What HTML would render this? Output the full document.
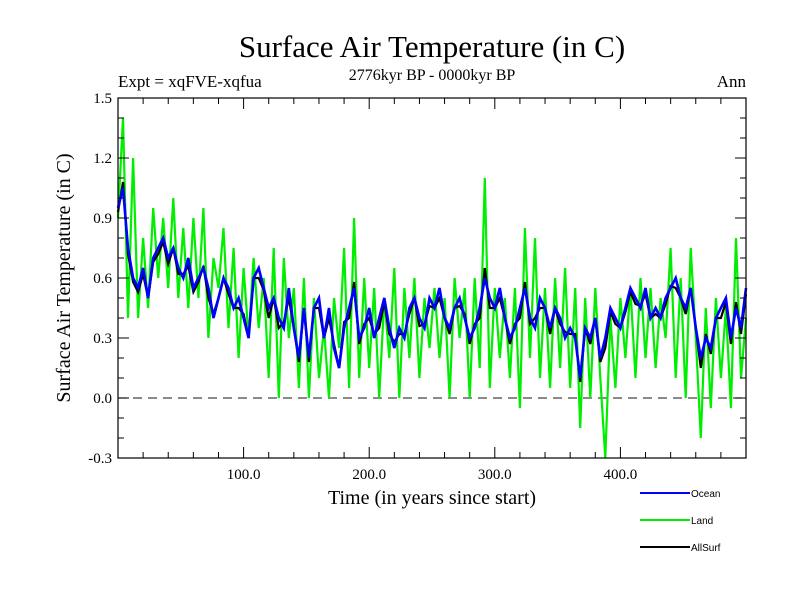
<!DOCTYPE html>
<html><head><meta charset="utf-8"><style>
body{margin:0;background:#fff;}
svg text{font-family:"Liberation Serif",serif;fill:#000;}
</style></head><body>
<svg id="chart" width="800" height="600" viewBox="0 0 800 600" xmlns="http://www.w3.org/2000/svg">
<rect width="800" height="600" fill="#fff"/>
<text x="432" y="57" font-size="31" text-anchor="middle">Surface Air Temperature (in C)</text>
<text x="432" y="80" font-size="16" text-anchor="middle">2776kyr BP - 0000kyr BP</text>
<text x="118" y="87" font-size="17">Expt = xqFVE-xqfua</text>
<text x="746" y="87" font-size="17" text-anchor="end">Ann</text>
<g id="grid"></g>
<g id="series"></g>
<rect x="118" y="98" width="628" height="360" fill="none" stroke="#000" stroke-width="1.2"/>
<g id="axes"></g>
<text x="432" y="504" font-size="20" text-anchor="middle">Time (in years since start)</text>
<text transform="translate(70,278) rotate(-90)" font-size="20" text-anchor="middle">Surface Air Temperature (in C)</text>
<g id="legend"></g>
</svg>
<script>
const yTicks=[-0.3,0.0,0.3,0.6,0.9,1.2,1.5];
const yTickLabels=["-0.3","0.0","0.3","0.6","0.9","1.2","1.5"];
const xTicks=[100,200,300,400];
const xTickLabels=["100.0","200.0","300.0","400.0"];
const seriesNames=["Ocean","Land","AllSurf"];
const oceanYears=[0,4,8,12,16,20,24,28,32,36,40,44,48,52,56,60,64,68,72,76,80,84,88,92,96,100,104,108,112,116,120,124,128,132,136,140,144,148,152,156,160,164,168,172,176,180,184,188,192,196,200,204,208,212,216,220,224,228,232,236,240,244,248,252,256,260,264,268,272,276,280,284,288,292,296,300,304,308,312,316,320,324,328,332,336,340,344,348,352,356,360,364,368,372,376,380,384,388,392,396,400,404,408,412,416,420,424,428,432,436,440,444,448,452,456,460,464,468,472,476,480,484,488,492,496,500];
const oceanValues=[0.95,1.05,0.75,0.6,0.55,0.65,0.5,0.7,0.75,0.8,0.7,0.75,0.65,0.6,0.7,0.55,0.6,0.65,0.55,0.4,0.5,0.6,0.55,0.45,0.5,0.4,0.3,0.6,0.65,0.55,0.45,0.5,0.4,0.35,0.55,0.35,0.2,0.45,0.2,0.45,0.5,0.3,0.45,0.25,0.15,0.35,0.45,0.55,0.3,0.35,0.45,0.3,0.4,0.5,0.35,0.25,0.35,0.3,0.45,0.5,0.4,0.35,0.5,0.45,0.55,0.4,0.35,0.45,0.5,0.4,0.3,0.35,0.45,0.6,0.5,0.45,0.55,0.4,0.3,0.35,0.45,0.55,0.4,0.35,0.5,0.45,0.35,0.45,0.4,0.3,0.35,0.3,0.1,0.35,0.3,0.4,0.2,0.3,0.45,0.4,0.35,0.45,0.55,0.5,0.45,0.55,0.4,0.45,0.4,0.5,0.55,0.6,0.5,0.45,0.55,0.35,0.2,0.3,0.25,0.4,0.45,0.5,0.3,0.45,0.35,0.55];
const landValues=[0.9,1.4,0.4,1.2,0.4,0.8,0.45,0.95,0.6,0.9,0.55,1.0,0.5,0.85,0.45,0.9,0.5,0.95,0.3,0.7,0.55,0.85,0.35,0.75,0.2,0.65,0.3,0.7,0.35,0.6,0.1,0.75,0.0,0.7,0.3,0.55,0.05,0.6,0.0,0.5,0.1,0.35,0.0,0.5,0.25,0.75,0.05,0.9,0.1,0.6,0.15,0.55,0.0,0.5,0.2,0.65,0.0,0.55,0.2,0.6,0.1,0.5,0.25,0.55,0.2,0.5,0.0,0.6,0.3,0.55,0.0,0.6,0.15,1.1,0.05,0.55,0.2,0.5,0.1,0.55,-0.05,0.85,0.2,0.8,0.1,0.55,0.05,0.6,0.15,0.65,0.05,0.55,-0.15,0.5,0.0,0.55,0.1,-0.3,0.4,0.05,0.5,0.2,0.55,0.1,0.6,0.2,0.55,0.15,0.5,0.3,0.75,0.1,0.6,0.0,0.75,0.3,-0.2,0.45,-0.05,0.5,0.1,0.45,-0.05,0.8,0.1,0.4];
const allSurfValues=[0.93,1.08,0.72,0.58,0.53,0.62,0.5,0.68,0.72,0.78,0.67,0.75,0.62,0.62,0.66,0.53,0.58,0.66,0.5,0.42,0.5,0.6,0.52,0.45,0.45,0.42,0.3,0.6,0.6,0.54,0.4,0.5,0.35,0.38,0.5,0.35,0.18,0.45,0.18,0.45,0.45,0.3,0.4,0.27,0.15,0.38,0.4,0.58,0.27,0.37,0.4,0.32,0.35,0.48,0.32,0.28,0.32,0.32,0.42,0.5,0.36,0.37,0.46,0.45,0.5,0.4,0.32,0.45,0.46,0.42,0.27,0.37,0.4,0.65,0.45,0.45,0.5,0.4,0.27,0.37,0.4,0.58,0.37,0.4,0.45,0.45,0.32,0.45,0.37,0.33,0.32,0.32,0.08,0.35,0.27,0.4,0.18,0.25,0.43,0.37,0.35,0.43,0.53,0.47,0.46,0.52,0.4,0.42,0.4,0.47,0.56,0.55,0.5,0.42,0.55,0.35,0.15,0.32,0.22,0.4,0.4,0.48,0.27,0.48,0.32,0.52];

const NS="http://www.w3.org/2000/svg";
const X0=118,X1=746,Y0=458,Y1=98;
function xs(v){return X0+(v-0)/(500-0)*(X1-X0);}
function ys(v){return Y0-(v-(-0.3))/(1.5-(-0.3))*(Y0-Y1);}
function mk(tag,attrs,parent){const e=document.createElementNS(NS,tag);for(const k in attrs)e.setAttribute(k,attrs[k]);parent.appendChild(e);return e;}
const grid=document.getElementById('grid'),axes=document.getElementById('axes'),ser=document.getElementById('series'),leg=document.getElementById('legend');

const zl=mk('line',{x1:X0,x2:X1,y1:ys(0),y2:ys(0),stroke:'#444','stroke-width':1.2,'stroke-dasharray':'9,6'},grid);



for(let t=20;t<500;t+=20){const major=t%100===0;const L=major?11:6;
 mk('line',{x1:xs(t),x2:xs(t),y1:Y0,y2:Y0-L,stroke:'#000'},axes);
 mk('line',{x1:xs(t),x2:xs(t),y1:Y1,y2:Y1+L,stroke:'#000'},axes);}
for(let i=-3;i<=15;i++){const v=i/10;const major=i%3===0;const L=major?11:6;
 mk('line',{x1:X0,x2:X0+L,y1:ys(v),y2:ys(v),stroke:'#000'},axes);
 mk('line',{x1:X1,x2:X1-L,y1:ys(v),y2:ys(v),stroke:'#000'},axes);}
yTicks.forEach((v,i)=>{const t=mk('text',{x:112,y:ys(v)+5,'font-size':15,'text-anchor':'end'},axes);t.textContent=yTickLabels[i];
 
 });
xTicks.forEach((v,i)=>{const t=mk('text',{x:xs(v),y:479,'font-size':15,'text-anchor':'middle'},axes);t.textContent=xTickLabels[i];
 
 });

function pts(vals){return vals.map((v,i)=>xs(oceanYears[i]).toFixed(1)+','+ys(v).toFixed(1)).join(' ');}
const land=mk('polyline',{points:pts(landValues),fill:'none',stroke:'#00ee00','stroke-width':2.2},ser);


const all=mk('polyline',{points:pts(allSurfValues),fill:'none',stroke:'#000','stroke-width':2.2},ser);


const oc=mk('polyline',{points:pts(oceanValues),fill:'none',stroke:'#0000ff','stroke-width':2.6},ser);



const colors=['#0000ff','#00ee00','#000'];
seriesNames.forEach((n,i)=>{const y=493+i*27;
 const g=mk('g',{},leg);
 
 
 mk('line',{x1:640,x2:690,y1:y,y2:y,stroke:colors[i],'stroke-width':2},g);
 const t=mk('text',{x:691,y:y+4,'font-size':10,style:'font-family:"Liberation Sans",sans-serif'},g);t.textContent=n;});
</script>
</body></html>
